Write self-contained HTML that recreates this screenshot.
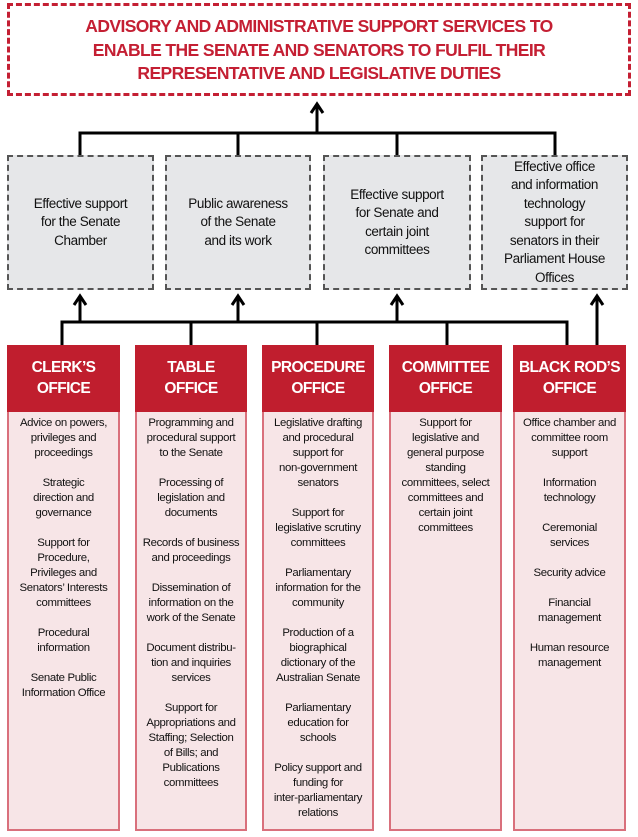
<!DOCTYPE html>
<html><head><meta charset="utf-8"><style>
body{margin:0;width:638px;height:837px;background:#fff;position:relative;overflow:hidden;font-family:"Liberation Sans Narrow","Liberation Sans",sans-serif;}
.a{position:absolute;box-sizing:border-box;}
.top{left:7px;top:3px;width:624px;height:93px;border:3px dashed #c41f33;color:#c41f33;font-weight:bold;font-size:17.5px;letter-spacing:-0.6px;line-height:23.5px;text-align:center;padding-top:9px;white-space:nowrap;}
.g{top:155px;height:135px;background:#e6e7e9;border:2px dashed #555;font-size:13.5px;letter-spacing:-0.4px;line-height:18.5px;text-align:center;display:flex;align-items:center;justify-content:center;color:#111;white-space:nowrap;}
.o{top:345px;height:486px;background:#f7e5e7;border:2px solid #d9707c;border-top:none;font-size:11.4px;letter-spacing:-0.35px;line-height:15px;text-align:center;color:#111;white-space:nowrap;}
.h{position:absolute;left:-2px;right:-2px;top:0;height:67px;background:#c01e2e;color:#fff;font-size:15.5px;letter-spacing:-0.6px;line-height:21px;font-weight:bold;text-align:center;padding-top:12px;box-sizing:border-box;white-space:nowrap;}
.t{position:absolute;left:0;right:0;top:71px;}
</style></head><body>
<div class="a top">ADVISORY AND ADMINISTRATIVE SUPPORT SERVICES TO<br>ENABLE THE SENATE AND SENATORS TO FULFIL THEIR<br>REPRESENTATIVE AND LEGISLATIVE DUTIES</div>
<svg class="a" style="left:0;top:0" width="638" height="837">
<g stroke="#000" stroke-width="3" fill="none">
<path d="M80,155 V133 H555 V155 M238,133 V155 M397,133 V155"/>
<path d="M317,133 V106"/>
<path d="M311,113 L317,104 L323,113"/>
<path d="M62,345 V322 H567 V345 M191,322 V345 M317,322 V345 M447,322 V345"/>
<path d="M80,322 V298 M238,322 V298 M397,322 V298 M597,345 V298"/>
<path d="M74,305 L80,296 L86,305 M232,305 L238,296 L244,305 M391,305 L397,296 L403,305 M591,305 L597,296 L603,305"/>
</g></svg>
<div class="a g" style="left:7px;width:147px">Effective support<br>for the Senate<br>Chamber</div>
<div class="a g" style="left:165px;width:146px">Public awareness<br>of the Senate<br>and its work</div>
<div class="a g" style="left:323px;width:148px">Effective support<br>for Senate and<br>certain joint<br>committees</div>
<div class="a g" style="left:481px;width:147px">Effective office<br>and information<br>technology<br>support for<br>senators in their<br>Parliament House<br>Offices</div>

<div class="a o" style="left:7px;width:113px"><div class="h">CLERK’S<br>OFFICE</div><div class="t">Advice on powers,<br>privileges and<br>proceedings<br><br>Strategic<br>direction and<br>governance<br><br>Support for<br>Procedure,<br>Privileges and<br>Senators’ Interests<br>committees<br><br>Procedural<br>information<br><br>Senate Public<br>Information Office</div></div>
<div class="a o" style="left:135px;width:112px"><div class="h">TABLE<br>OFFICE</div><div class="t">Programming and<br>procedural support<br>to the Senate<br><br>Processing of<br>legislation and<br>documents<br><br>Records of business<br>and proceedings<br><br>Dissemination of<br>information on the<br>work of the Senate<br><br>Document distribu-<br>tion and inquiries<br>services<br><br>Support for<br>Appropriations and<br>Staffing; Selection<br>of Bills; and<br>Publications<br>committees</div></div>
<div class="a o" style="left:262px;width:112px"><div class="h">PROCEDURE<br>OFFICE</div><div class="t">Legislative drafting<br>and procedural<br>support for<br>non-government<br>senators<br><br>Support for<br>legislative scrutiny<br>committees<br><br>Parliamentary<br>information for the<br>community<br><br>Production of a<br>biographical<br>dictionary of the<br>Australian Senate<br><br>Parliamentary<br>education for<br>schools<br><br>Policy support and<br>funding for<br>inter-parliamentary<br>relations</div></div>
<div class="a o" style="left:389px;width:113px"><div class="h">COMMITTEE<br>OFFICE</div><div class="t">Support for<br>legislative and<br>general purpose<br>standing<br>committees, select<br>committees and<br>certain joint<br>committees</div></div>
<div class="a o" style="left:513px;width:113px"><div class="h">BLACK ROD’S<br>OFFICE</div><div class="t">Office chamber and<br>committee room<br>support<br><br>Information<br>technology<br><br>Ceremonial<br>services<br><br>Security advice<br><br>Financial<br>management<br><br>Human resource<br>management</div></div>
</body></html>
